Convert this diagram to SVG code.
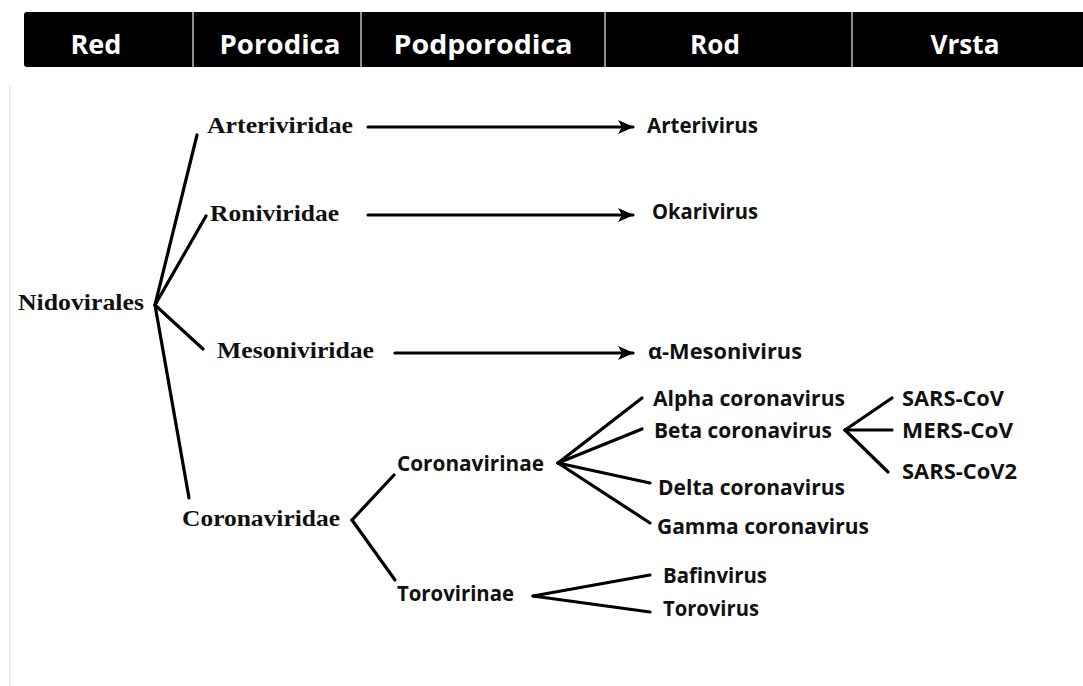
<svg xmlns="http://www.w3.org/2000/svg" width="1083" height="686" viewBox="0 0 1083 686">
<defs>
<style>
.hdr{font-family:"Open Sans","Liberation Sans",sans-serif;font-weight:700;font-size:27px;fill:#fff;text-anchor:middle}
.ser{font-family:"Liberation Serif","Times New Roman",serif;font-weight:700;font-size:23px;fill:#111}
.san{font-family:"Open Sans","Liberation Sans",sans-serif;font-weight:700;font-size:21px;fill:#111}
.ln{stroke:#000;stroke-width:3.2;fill:none;stroke-linecap:round}
.sep{stroke:#bbb;stroke-width:1.5}
</style>
<marker id="ah" markerUnits="userSpaceOnUse" markerWidth="16" markerHeight="14" refX="15" refY="7" orient="auto">
<path d="M0,0 L16,7 L0,14 L4,7 Z" fill="#000"/>
</marker>
</defs>
<rect width="1083" height="686" fill="#fff"/>
<line x1="10" y1="85" x2="10" y2="686" stroke="#ececec" stroke-width="2"/>
<g id="header">
<rect x="24" y="12" width="1070" height="55" rx="3" fill="#000"/>
<line class="sep" x1="193" y1="12" x2="193" y2="67"/>
<line class="sep" x1="361" y1="12" x2="361" y2="67"/>
<line class="sep" x1="605" y1="12" x2="605" y2="67"/>
<line class="sep" x1="852" y1="12" x2="852" y2="67"/>
<text class="hdr" x="96" y="54" textLength="51" lengthAdjust="spacingAndGlyphs">Red</text>
<text class="hdr" x="280" y="54" textLength="121" lengthAdjust="spacingAndGlyphs">Porodica</text>
<text class="hdr" x="483" y="54" textLength="179" lengthAdjust="spacingAndGlyphs">Podporodica</text>
<text class="hdr" x="715" y="54" textLength="50" lengthAdjust="spacingAndGlyphs">Rod</text>
<text class="hdr" x="965" y="54" textLength="69" lengthAdjust="spacingAndGlyphs">Vrsta</text>
</g>
<g id="connectors">
<line class="ln" x1="155" y1="305" x2="197" y2="135"/>
<line class="ln" x1="155" y1="305" x2="206" y2="216"/>
<line class="ln" x1="155" y1="305" x2="203" y2="349"/>
<line class="ln" x1="155" y1="305" x2="189" y2="498"/>
<line class="ln" x1="368" y1="127" x2="633" y2="127" marker-end="url(#ah)"/>
<line class="ln" x1="368" y1="215" x2="633" y2="215" marker-end="url(#ah)"/>
<line class="ln" x1="395" y1="353" x2="633" y2="353" marker-end="url(#ah)"/>
<line class="ln" x1="352" y1="520" x2="394" y2="475"/>
<line class="ln" x1="352" y1="520" x2="395" y2="580"/>
<line class="ln" x1="558" y1="463" x2="642" y2="398"/>
<line class="ln" x1="558" y1="463" x2="642" y2="429"/>
<line class="ln" x1="558" y1="463" x2="650" y2="483"/>
<line class="ln" x1="558" y1="463" x2="650" y2="523"/>
<line class="ln" x1="533" y1="596" x2="650" y2="575"/>
<line class="ln" x1="533" y1="596" x2="650" y2="612"/>
<line class="ln" x1="845" y1="430" x2="892" y2="398"/>
<line class="ln" x1="845" y1="430" x2="892" y2="430"/>
<line class="ln" x1="845" y1="430" x2="888" y2="472"/>
</g>
<g id="n-nidovirales"><text class="ser" x="18" y="310" textLength="126" lengthAdjust="spacingAndGlyphs">Nidovirales</text></g>
<g id="n-arteriviridae"><text class="ser" x="207" y="133" textLength="146" lengthAdjust="spacingAndGlyphs">Arteriviridae</text></g>
<g id="n-roniviridae"><text class="ser" x="210" y="221" textLength="129" lengthAdjust="spacingAndGlyphs">Roniviridae</text></g>
<g id="n-mesoniviridae"><text class="ser" x="217" y="358" textLength="157" lengthAdjust="spacingAndGlyphs">Mesoniviridae</text></g>
<g id="n-coronaviridae"><text class="ser" x="182" y="526" textLength="158" lengthAdjust="spacingAndGlyphs">Coronaviridae</text></g>
<g id="n-arterivirus"><text class="san" x="647" y="133" textLength="111" lengthAdjust="spacingAndGlyphs">Arterivirus</text></g>
<g id="n-okarivirus"><text class="san" x="652" y="219" textLength="106" lengthAdjust="spacingAndGlyphs">Okarivirus</text></g>
<g id="n-mesonivirus"><text class="san" x="648" y="359" textLength="154" lengthAdjust="spacingAndGlyphs">α-Mesonivirus</text></g>
<g id="n-coronavirinae"><text class="san" x="397" y="471" textLength="147" lengthAdjust="spacingAndGlyphs">Coronavirinae</text></g>
<g id="n-torovirinae"><text class="san" x="397" y="601" textLength="117" lengthAdjust="spacingAndGlyphs">Torovirinae</text></g>
<g id="n-alpha"><text class="san" x="653" y="406" textLength="192" lengthAdjust="spacingAndGlyphs">Alpha coronavirus</text></g>
<g id="n-beta"><text class="san" x="654" y="438" textLength="178" lengthAdjust="spacingAndGlyphs">Beta coronavirus</text></g>
<g id="n-delta"><text class="san" x="658" y="495" textLength="187" lengthAdjust="spacingAndGlyphs">Delta coronavirus</text></g>
<g id="n-gamma"><text class="san" x="657" y="534" textLength="212" lengthAdjust="spacingAndGlyphs">Gamma coronavirus</text></g>
<g id="n-bafinvirus"><text class="san" x="663" y="583" textLength="104" lengthAdjust="spacingAndGlyphs">Bafinvirus</text></g>
<g id="n-torovirus"><text class="san" x="663" y="616" textLength="96" lengthAdjust="spacingAndGlyphs">Torovirus</text></g>
<g id="n-sarscov"><text class="san" x="902" y="406" textLength="102" lengthAdjust="spacingAndGlyphs">SARS-CoV</text></g>
<g id="n-merscov"><text class="san" x="902" y="438" textLength="111" lengthAdjust="spacingAndGlyphs">MERS-CoV</text></g>
<g id="n-sarscov2"><text class="san" x="902" y="479" textLength="115" lengthAdjust="spacingAndGlyphs">SARS-CoV2</text></g>
</svg>
